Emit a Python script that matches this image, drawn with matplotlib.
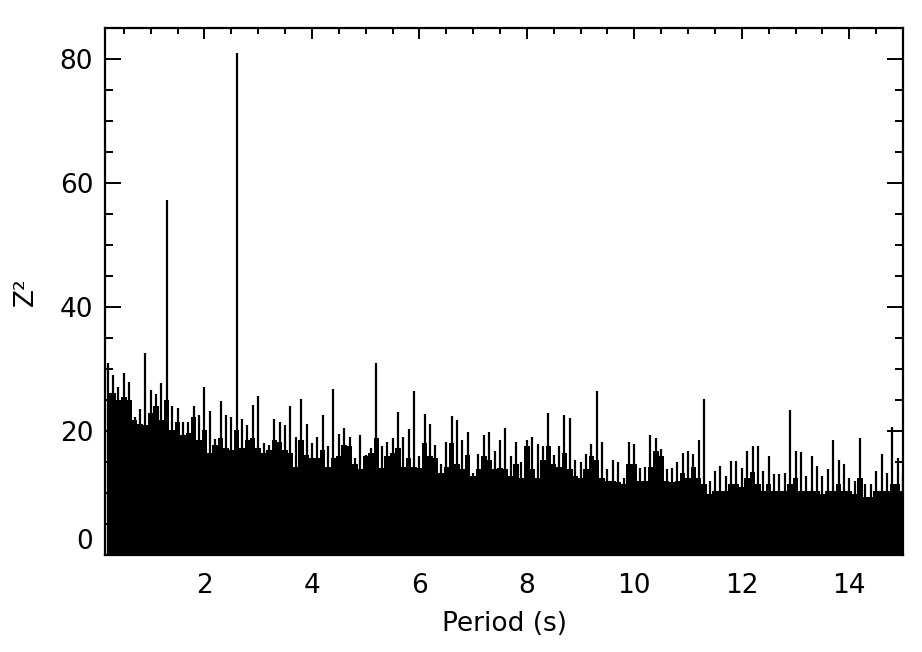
import numpy as np
import matplotlib.pyplot as plt
from matplotlib.ticker import MultipleLocator

# Z^2 periodogram on a 0.1 s grid
period = np.round(np.arange(0.2, 15.05, 0.1), 2)

# highest spike inside each 0.1 s bin
peak_z2 = [
    31.0, 29.0, 27.1, 29.3, 27.9, 22.2, 23.6, 32.5, 26.6, 26.0,
    27.7, 57.3, 24.0, 23.7, 21.5, 21.5, 24.0, 22.6, 27.1, 23.3,
    18.7, 24.9, 22.5, 22.2, 81.0, 21.9, 21.0, 24.2, 25.6, 18.0,
    17.7, 22.0, 21.5, 21.0, 24.0, 19.0, 25.2, 21.2, 18.0, 19.0,
    22.5, 17.5, 26.8, 19.5, 20.5, 19.1, 15.6, 19.3, 16.1, 17.2,
    30.9, 17.6, 18.3, 18.9, 23.1, 19.0, 20.3, 26.4, 15.9, 22.8,
    21.2, 17.7, 14.7, 18.3, 22.4, 21.7, 18.6, 19.9, 13.2, 16.3,
    19.3, 19.9, 16.8, 18.6, 20.5, 15.9, 18.2, 15.0, 18.6, 19.0,
    17.9, 17.6, 22.9, 16.1, 17.6, 22.5, 22.1, 15.3, 15.0, 16.3,
    17.9, 26.4, 18.3, 13.8, 15.4, 15.0, 12.4, 18.3, 17.9, 14.1,
    14.2, 19.3, 18.9, 17.1, 13.8, 14.0, 15.0, 16.5, 16.8, 16.3,
    18.5, 25.1, 11.9, 13.5, 14.3, 12.7, 15.1, 15.1, 14.0, 16.7,
    17.6, 17.5, 13.5, 16.0, 13.0, 13.0, 13.2, 23.4, 16.7, 16.6,
    12.7, 15.9, 14.3, 12.7, 13.9, 18.6, 15.4, 14.7, 12.4, 11.9,
    18.9, 11.4, 11.4, 13.5, 16.3, 13.2, 20.6, 15.7, 13.0,
]

# level below which the band is solid black
floor_z2 = [
    26.1, 26.1, 25.0, 25.5, 25.0, 21.8, 21.2, 21.0, 22.9, 24.1,
    21.8, 25.0, 20.1, 21.5, 19.3, 19.6, 22.2, 18.6, 20.1, 16.4,
    17.7, 18.8, 17.2, 17.0, 20.1, 17.2, 18.6, 18.8, 17.2, 16.4,
    17.0, 18.6, 18.3, 17.0, 16.4, 14.2, 18.6, 16.1, 15.6, 15.6,
    17.0, 14.2, 15.6, 15.9, 17.7, 17.5, 14.7, 13.8, 15.9, 16.4,
    18.8, 14.0, 15.9, 16.4, 17.2, 14.2, 15.6, 14.2, 14.0, 18.0,
    15.9, 15.6, 13.2, 14.2, 18.0, 14.7, 13.8, 16.1, 12.7, 13.8,
    15.9, 15.3, 13.8, 14.0, 13.8, 12.7, 14.7, 12.4, 17.5, 13.8,
    12.4, 15.3, 17.5, 14.7, 14.2, 16.4, 13.8, 12.7, 12.4, 13.8,
    15.9, 15.3, 12.4, 11.9, 11.9, 11.7, 11.4, 14.7, 14.7, 11.9,
    11.9, 14.2, 16.7, 15.9, 11.9, 11.7, 11.9, 13.2, 12.4, 14.2,
    12.4, 11.4, 9.9, 10.4, 10.4, 10.4, 11.4, 11.4, 10.9, 12.4,
    13.4, 11.4, 10.4, 11.4, 10.4, 10.4, 10.4, 11.4, 12.4, 10.4,
    10.4, 10.4, 10.4, 9.9, 10.4, 10.4, 11.4, 10.4, 10.4, 9.9,
    12.4, 9.4, 9.4, 10.4, 10.4, 10.4, 11.4, 11.4, 10.4,
]

x_range = (0.15, 15.0)
y_range = (0.0, 85.0)
x_ticks = [2, 4, 6, 8, 10, 12, 14]
y_ticks = [0, 20, 40, 60, 80]

plt.rcParams['font.family'] = ['DejaVu Sans']

fig = plt.figure(figsize=(9.22, 6.52), dpi=100)
ax = fig.add_axes([0.1139, 0.1488, 0.8655, 0.8083])

ax.fill_between(period, 0, floor_z2, step='mid', color='black', lw=0)
ax.vlines(period, 0, peak_z2, color='black', lw=1.6)

ax.set_xlim(*x_range)
ax.set_ylim(*y_range)
ax.set_xticks(x_ticks)
ax.set_yticks(y_ticks)
ax.xaxis.set_minor_locator(MultipleLocator(0.5))
ax.yaxis.set_minor_locator(MultipleLocator(5))

# IDL-like ticks: inside, on all four sides
ax.tick_params(axis='x', which='major', direction='in', length=8, width=1.4,
               top=True, labelsize=19, pad=13)
ax.tick_params(axis='x', which='minor', direction='in', length=4, width=1.4, top=True)
ax.tick_params(axis='y', which='major', direction='in', length=11.5, width=1.4,
               right=True, labelsize=19, pad=8.5)
ax.tick_params(axis='y', which='minor', direction='in', length=5.8, width=1.4, right=True)
for s in ax.spines.values():
    s.set_linewidth(1.6)

# the zero label sits on the axis instead of centred on it
ax.yaxis.get_major_ticks()[0].label1.set_va('bottom')

ax.set_xlabel('Period (s)', fontsize=19)
ax.set_ylabel('Z²', fontsize=19)
ax.xaxis.set_label_coords(0.5, -0.107)
ax.yaxis.set_label_coords(-0.083, 0.5)

fig.savefig('out.png', dpi=100)
